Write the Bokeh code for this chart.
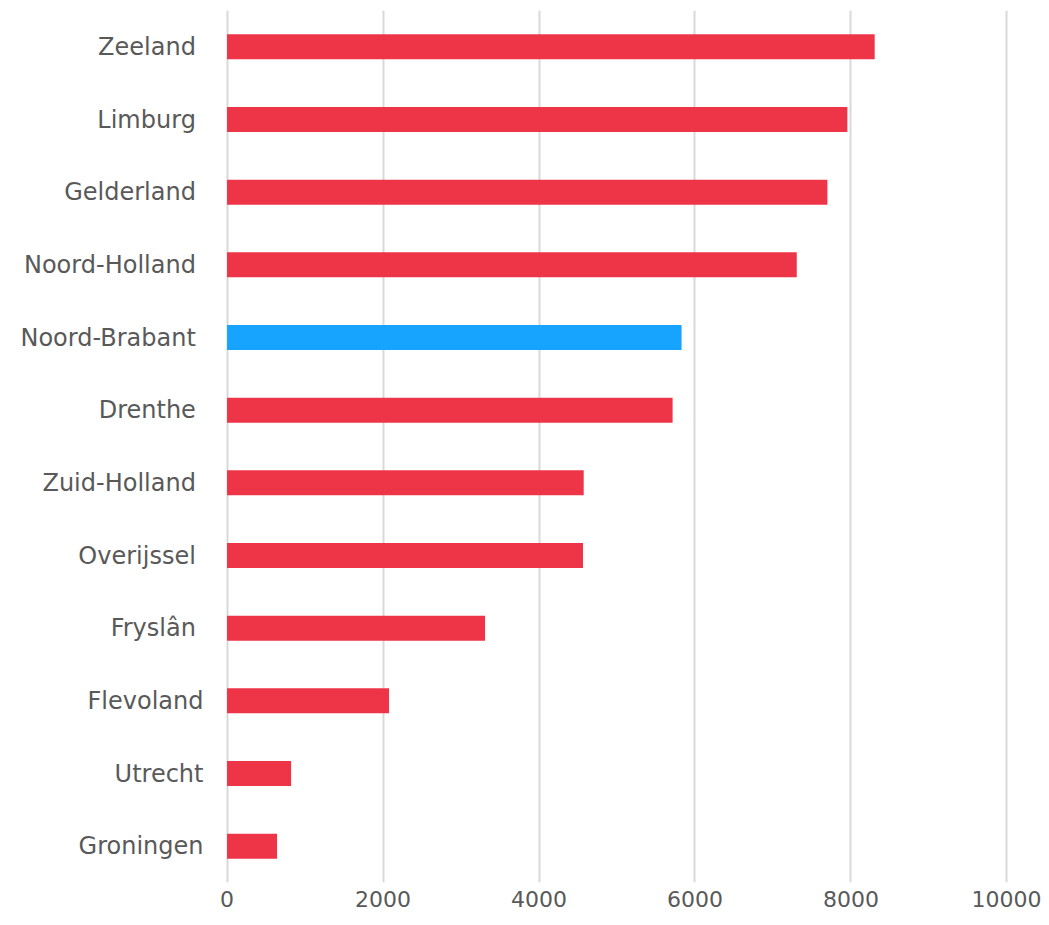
from bokeh.plotting import figure
from bokeh.models import FactorRange, Range1d, FixedTicker, ColumnDataSource
from bokeh.embed import file_html
from bokeh.resources import INLINE

provinces = ["Zeeland ", "Limburg ", "Gelderland ", "Noord-Holland ", "Noord-Brabant ",
             "Drenthe ", "Zuid-Holland ", "Overijssel ", "Fryslân ", "Flevoland",
             "Utrecht", "Groningen"]
values = [8304, 7954, 7698, 7305, 5828, 5713, 4573, 4564, 3308, 2077, 821, 641]
highlight = "Noord-Brabant "
tick_values = [0, 2000, 4000, 6000, 8000, 10000]

RED = "#EE3547"
BLUE = "#16A4FE"
colors = [BLUE if p == highlight else RED for p in provinces]

src = ColumnDataSource(dict(y=provinces, right=values, color=colors))

p = figure(width=1041, height=917,
           y_range=FactorRange(factors=list(reversed(provinces)), range_padding=0),
           x_range=Range1d(-20, 10020),
           output_backend="svg", toolbar_location=None,
           min_border_left=225, min_border_right=33, min_border_top=10,
           min_border_bottom=35)

p.hbar(y="y", left=0, right="right", height=0.345, color="color", source=src, line_width=0)

p.outline_line_color = None
p.ygrid.grid_line_color = None
p.xgrid.grid_line_color = "#d9d9d9"
p.xgrid.grid_line_width = 2
p.xaxis.ticker = FixedTicker(ticks=tick_values)

for ax in (p.xaxis[0], p.yaxis[0]):
    ax.axis_line_color = None
    ax.major_tick_line_color = None
    ax.minor_tick_line_color = None
    ax.major_tick_out = 0
    ax.major_tick_in = 0
    ax.major_label_text_color = "#595959"
    ax.major_label_text_font = "DejaVu Sans"

p.yaxis.major_label_text_font_size = "24px"
p.yaxis.major_label_standoff = 22
p.xaxis.major_label_text_font_size = "22px"
p.xaxis.major_label_standoff = 8

open("out.html", "w").write(file_html(p, INLINE))
